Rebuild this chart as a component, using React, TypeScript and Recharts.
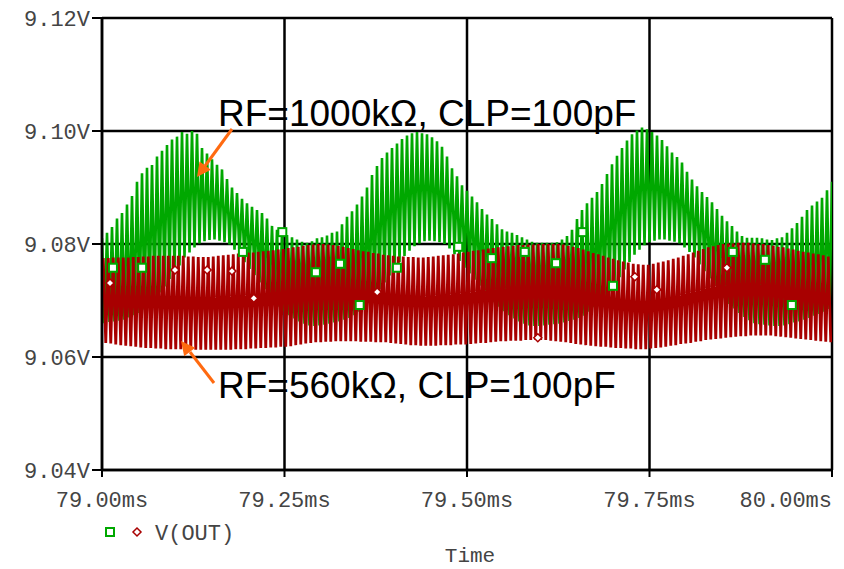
import React from 'react';
import { ComposedChart, Line, Scatter, XAxis, YAxis, CartesianGrid } from 'recharts';

// time grid: one oscillation cycle per step, 79.00ms .. 80.00ms
const T0 = 79;
const STEP = 1 / 146;

const xTicks = [79, 79.25, 79.5, 79.75, 80];
const yTicks = [9.04, 9.06, 9.08, 9.1, 9.12];

// RF=1000k trace, cycle peaks / troughs in mV above 9.000V
const greenHigh = [
  81, 82, 83, 84.5, 85.5, 87, 88.5, 91, 92.5, 93.5, 94, 95.5, 96.5, 97.5, 98.5, 99, 99.8, 99.5, 100, 99.5,
  97, 96, 95, 94, 93.2, 91.5, 90, 89, 88, 87.2, 86.6, 86, 85.5, 84.5, 83.2, 82.5, 82, 81.6, 81.2, 80.8,
  80.4, 80.2, 80.5, 81, 81.2, 81.5, 82, 82.2, 83.5, 84.8, 85.8, 87, 88.4, 90, 92.2, 93.8, 95.2, 96.2, 97, 97.8,
  98.6, 99.2, 99.6, 99.8, 99.6, 99.4, 98.9, 98.2, 97.2, 95.5, 93.4, 92, 90.4, 89.4, 88.4, 87.4, 86.2, 85.2, 84.4, 83.5,
  82.6, 82.2, 82, 81.6, 81.2, 80.8, 80.4, 80.2, 80.2, 80.2, 80.2, 80.3, 80.8, 81.4, 82.5, 84.4, 86, 87.2, 88.2, 89.2,
  90.6, 92.4, 94.1, 95.6, 97, 98.3, 99.4, 100.1, 100.6, 100.3, 99.8, 99.2, 98.4, 97.3, 96.2, 95.4, 94.4, 92.8, 91.4, 90.2,
  89.2, 88.3, 87.4, 86.2, 85, 84, 83.2, 82.2, 81.4, 81.1, 81.1, 81.1, 81, 80.8, 80.7, 81, 81.2, 82, 82.8, 83.7,
  84.8, 86, 86.8, 87.5, 88.2, 89.5, 91,
];
const greenLow = [
  66, 66.2, 66.3, 66.4, 66.6, 67, 67.4, 67.8, 68.4, 69.4, 70.4, 71.4, 72.5, 73.8, 75, 76.2, 77.6, 78.5, 79.4, 80.1,
  80.5, 80.7, 80.8, 80.6, 80.3, 79.9, 79, 78, 76.8, 75.6, 74.5, 73.2, 72, 70.8, 69.7, 68.9, 68.1, 67.4, 66.8, 66.3,
  65.9, 65.6, 65.5, 65.6, 65.7, 65.9, 66.1, 66.3, 66.6, 66.9, 67.4, 68, 68.8, 69.6, 70.8, 72, 73.2, 74.4, 75.5, 76.8,
  77.9, 78.8, 79.6, 80.1, 80.5, 80.6, 80.5, 80.3, 80, 79.2, 78.2, 77, 75.8, 74.8, 73.7, 72.6, 71.6, 70.6, 69.7, 68.9,
  68.1, 67.4, 66.8, 66.3, 65.9, 65.6, 65.5, 65.5, 65.6, 65.7, 65.8, 65.9, 66.1, 66.4, 66.6, 66.9, 67.3, 68, 68.8, 69.5,
  70.4, 71.6, 72.9, 74.1, 75.5, 76.8, 78.1, 79, 79.8, 80.3, 80.6, 80.8, 80.8, 80.6, 80.4, 80.1, 79.4, 78.6, 77.6, 76.4,
  75.2, 73.9, 72.6, 71.5, 70.4, 69.4, 68.6, 67.8, 67.1, 66.5, 66, 65.8, 65.7, 65.6, 65.5, 65.5, 65.6, 65.8, 66.1, 66.3,
  66.6, 66.9, 67.3, 67.6, 68, 68.5, 69,
];

// RF=560k trace, cycle peaks / troughs in mV above 9.000V
const redHigh = [
  77.5, 77.5, 77.6, 77.6, 77.6, 77.6, 77.7, 77.7, 77.8, 77.8, 77.9, 77.9, 77.9, 77.9, 77.9, 77.9, 77.9, 77.8, 77.8, 77.7,
  77.7, 77.7, 77.8, 77.9, 78, 78.1, 78.2, 78.3, 78.4, 78.5, 78.5, 78.6, 78.7, 78.8, 78.9, 79, 79.1, 79.3, 79.4, 79.5,
  79.7, 79.8, 79.9, 80, 80, 79.9, 79.8, 79.7, 79.5, 79.3, 79.1, 78.9, 78.7, 78.6, 78.4, 78.3, 78.1, 78, 77.9, 77.8,
  77.8, 77.7, 77.7, 77.6, 77.6, 77.7, 77.8, 77.9, 78, 78.1, 78.2, 78.3, 78.5, 78.6, 78.8, 78.9, 79, 79.2, 79.3, 79.4,
  79.5, 79.6, 79.7, 79.8, 79.8, 79.9, 79.9, 80, 80, 80, 80, 80, 79.9, 79.7, 79.5, 79.3, 79, 78.7, 78.4, 78.2,
  77.9, 77.6, 77.4, 77.1, 76.9, 76.7, 76.5, 76.4, 76.3, 76.3, 76.5, 76.7, 76.9, 77.1, 77.4, 77.6, 77.9, 78.2, 78.5, 78.8,
  79.1, 79.4, 79.6, 79.8, 80, 80.1, 80.1, 80.2, 80.2, 80.2, 80.1, 80, 80, 79.8, 79.7, 79.5, 79.4, 79.2, 79, 78.8,
  78.6, 78.5, 78.3, 78.2, 78, 77.8, 77.6,
];
const redLow = [
  62.5, 62.4, 62.2, 62.1, 62, 61.9, 61.8, 61.7, 61.6, 61.6, 61.5, 61.5, 61.4, 61.4, 61.4, 61.4, 61.3, 61.3, 61.3, 61.3,
  61.3, 61.3, 61.3, 61.3, 61.3, 61.3, 61.4, 61.4, 61.4, 61.5, 61.5, 61.6, 61.6, 61.7, 61.7, 61.8, 61.8, 61.9, 62.1, 62.2,
  62.4, 62.5, 62.6, 62.6, 62.7, 62.7, 62.8, 62.8, 62.8, 62.8, 62.8, 62.7, 62.7, 62.7, 62.6, 62.6, 62.6, 62.5, 62.4, 62.3,
  62.2, 62.1, 62.1, 62, 62, 62, 62, 62.1, 62.1, 62.1, 62.2, 62.2, 62.2, 62.3, 62.4, 62.5, 62.5, 62.6, 62.7, 62.8,
  62.8, 62.9, 62.9, 62.9, 63, 63, 63, 63, 63, 62.9, 62.8, 62.7, 62.6, 62.5, 62.3, 62.2, 62.1, 62, 61.9, 61.8,
  61.8, 61.7, 61.6, 61.6, 61.5, 61.5, 61.4, 61.4, 61.4, 61.5, 61.6, 61.7, 61.8, 62, 62.1, 62.3, 62.4, 62.5, 62.7, 62.8,
  63, 63.1, 63.2, 63.3, 63.4, 63.5, 63.6, 63.7, 63.7, 63.8, 63.8, 63.8, 63.8, 63.8, 63.7, 63.6, 63.5, 63.4, 63.3, 63.2,
  63.1, 63, 62.9, 62.8, 62.7, 62.6, 62.6,
];

// plot markers [ms, V]
const greenMarks = [
  [79.015, 9.0758], [79.055, 9.0758], [79.193, 9.0786], [79.247, 9.0821], [79.293, 9.075], [79.326, 9.0765],
  [79.353, 9.0692], [79.404, 9.0758], [79.488, 9.0795], [79.534, 9.0775], [79.579, 9.0786], [79.622, 9.0766],
  [79.658, 9.0821], [79.7, 9.0726], [79.864, 9.0786], [79.908, 9.0772], [79.945, 9.0692],
];
const redMarks = [
  [79.011, 9.0731], [79.1, 9.0754], [79.144, 9.0754], [79.178, 9.0752], [79.208, 9.0704],
  [79.377, 9.0715], [79.597, 9.0634], [79.73, 9.0742], [79.76, 9.0719], [79.856, 9.0758],
];

const GREEN = '#00a800';
const RED = '#a80000';
const ORANGE = '#ff6a10';
const MONO = "'Liberation Mono', 'DejaVu Sans Mono', monospace";
const SANS = "'Liberation Sans', Arial, sans-serif";
const TICK_FILL = '#444';

function trace(high: number[], low: number[], shift: number) {
  const pts: { t: number; v: number }[] = [];
  high.forEach((h, i) => {
    const t = T0 + (i + shift) * STEP;
    if (t <= 80) pts.push({ t, v: 9 + h / 1000 });
    const t2 = t + STEP / 2;
    if (t2 <= 80) pts.push({ t: t2, v: 9 + low[i] / 1000 });
  });
  return pts;
}

const greenData = trace(greenHigh, greenLow, 0);
const redData = trace(redHigh, redLow, 0.25);
const greenMarkData = greenMarks.map(([t, v]) => ({ t, v }));
const redMarkData = redMarks.map(([t, v]) => ({ t, v }));

const XTick = (props: any) => {
  const { x, y, payload, index } = props;
  const last = index === xTicks.length - 1;
  return (
    <text x={x} y={y + 28} textAnchor={last ? 'end' : 'middle'} fontFamily={MONO} fontSize={22} fill={TICK_FILL}>
      {payload.value.toFixed(2)}ms
    </text>
  );
};

const YTick = (props: any) => {
  const { x, y, payload } = props;
  return (
    <text x={x} y={y} dy="0.35em" textAnchor="end" fontFamily={MONO} fontSize={22} fill={TICK_FILL}>
      {payload.value.toFixed(2)}V
    </text>
  );
};

const Square = (props: any) => (
  <rect x={props.cx - 4} y={props.cy - 4} width={8} height={8} fill="#fff" stroke={GREEN} strokeWidth={2} />
);

const Diamond = (props: any) => {
  const { cx, cy } = props;
  return (
    <polygon
      points={`${cx},${cy - 4} ${cx + 4},${cy} ${cx},${cy + 4} ${cx - 4},${cy}`}
      fill="#fff"
      stroke={RED}
      strokeWidth={1.5}
    />
  );
};

export default function App() {
  return (
    <div style={{ position: 'absolute', left: 0, top: 0, width: 844, height: 569, background: '#fff' }}>
      <ComposedChart width={844} height={569} margin={{ top: 18, right: 12, bottom: 69, left: 0 }}>
        <CartesianGrid stroke="#000" strokeWidth={2.5} />
        <XAxis
          type="number"
          dataKey="t"
          domain={[79, 80]}
          ticks={xTicks}
          allowDataOverflow
          height={30}
          axisLine={{ stroke: '#000', strokeWidth: 2.5 }}
          tickLine={{ stroke: '#000', strokeWidth: 2 }}
          tickSize={7}
          tick={<XTick />}
          interval={0}
        />
        <YAxis
          type="number"
          domain={[9.04, 9.12]}
          ticks={yTicks}
          allowDataOverflow
          width={102}
          axisLine={{ stroke: '#000', strokeWidth: 2.5 }}
          tickLine={{ stroke: '#000', strokeWidth: 2 }}
          tickSize={10}
          tick={<YTick />}
          interval={0}
        />
        <Line data={greenData} dataKey="v" type="linear" stroke={GREEN} strokeWidth={2.6} dot={false} isAnimationActive={false} />
        <Line data={redData} dataKey="v" type="linear" stroke={RED} strokeWidth={2.8} dot={false} isAnimationActive={false} />
        <Scatter data={greenMarkData} dataKey="v" shape={<Square />} isAnimationActive={false} />
        <Scatter data={redMarkData} dataKey="v" shape={<Diamond />} isAnimationActive={false} />
      </ComposedChart>
      <svg width={844} height={569} style={{ position: 'absolute', left: 0, top: 0, pointerEvents: 'none' }}>
        <text x={218} y={126} fontFamily={SANS} fontSize={37} fill="#000">
          RF=1000kΩ, CLP=100pF
        </text>
        <text x={218} y={398} fontFamily={SANS} fontSize={37} fill="#000">
          RF=560kΩ, CLP=100pF
        </text>
        <line x1={232} y1={129} x2={205} y2={166} stroke={ORANGE} strokeWidth={3} />
        <polygon points="197,177 210.9,169.8 199.5,161.6" fill={ORANGE} />
        <line x1={214} y1={383} x2={190} y2={352} stroke={ORANGE} strokeWidth={3} />
        <polygon points="181,341 195.2,347.7 184.2,356.3" fill={ORANGE} />
        <rect x={106} y={528} width={8} height={8} fill="#fff" stroke={GREEN} strokeWidth={2} />
        <polygon points="137,528 141,532 137,536 133,532" fill="#fff" stroke={RED} strokeWidth={1.5} />
        <text x={155} y={532} dy="0.35em" fontFamily={MONO} fontSize={22} fill={TICK_FILL}>
          V(OUT)
        </text>
        <text x={470} y={555} dy="0.35em" textAnchor="middle" fontFamily={MONO} fontSize={21} fill={TICK_FILL}>
          Time
        </text>
      </svg>
    </div>
  );
}
